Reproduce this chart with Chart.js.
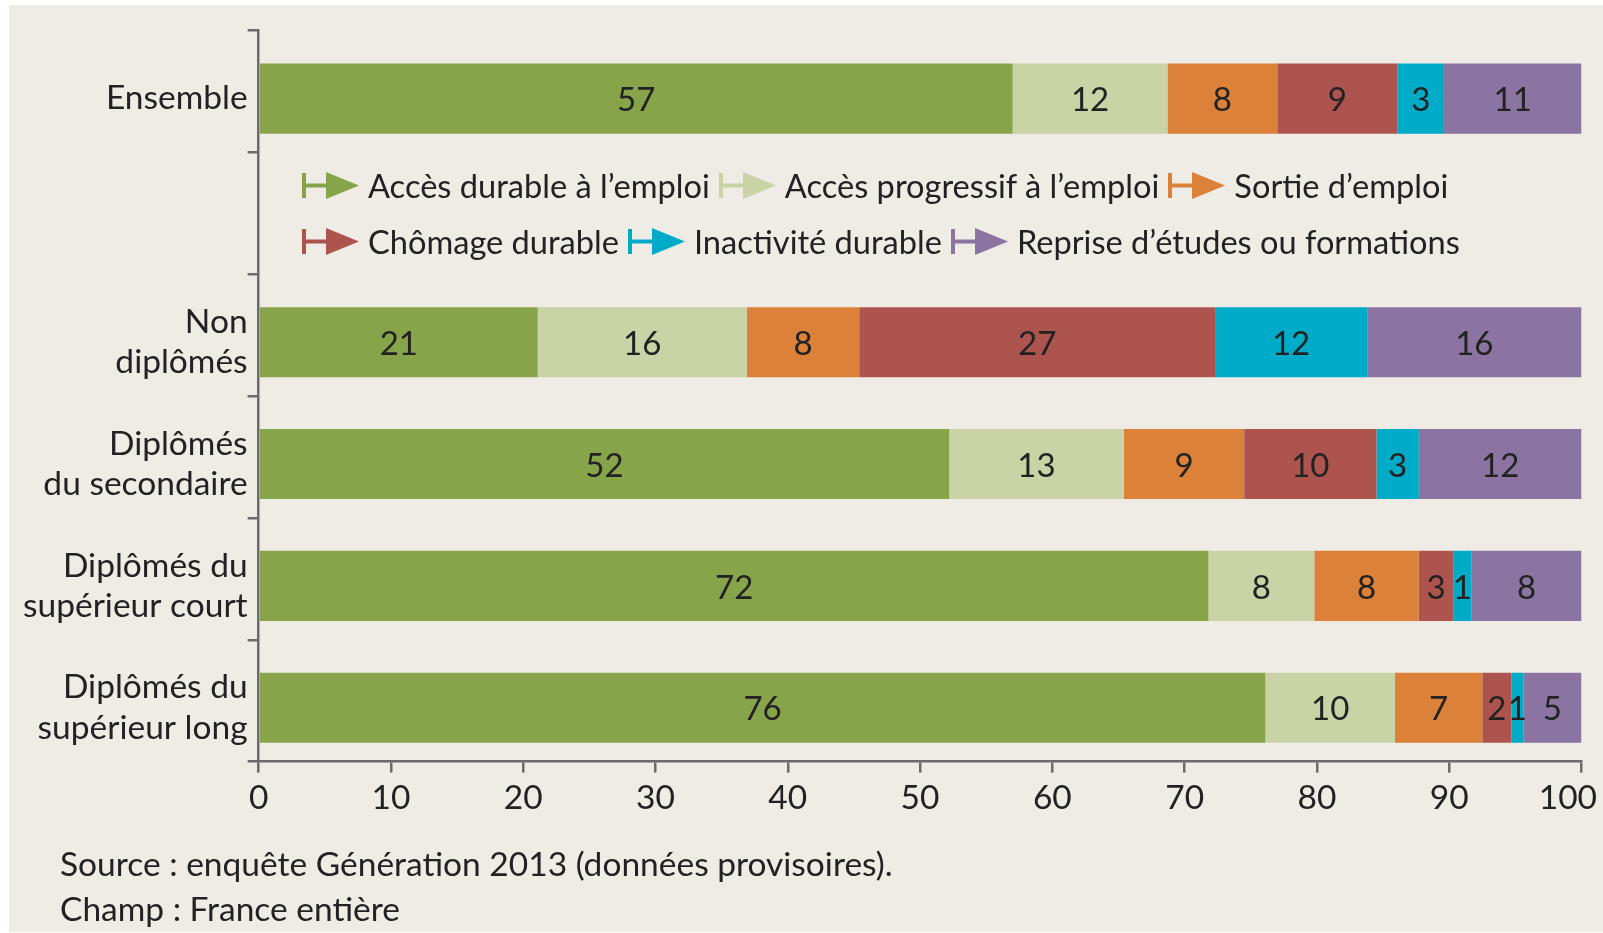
<!DOCTYPE html>
<html lang="fr">
<head>
<meta charset="utf-8">
<title>Situation des jeunes selon le diplôme</title>
<script src="https://cdn.jsdelivr.net/npm/chart.js@4.4.1/dist/chart.umd.min.js"></script>
<style>
  html, body { margin: 0; padding: 0; background: #ffffff; }
  body { width: 1603px; height: 933px; position: relative; overflow: hidden; font-family: Lato, "Open Sans", sans-serif; color: #222; }
  #panel { position: absolute; left: 9px; top: 5px; width: 1594px; height: 927px; background: #EFECE6; }
  #wrap { position: absolute; left: 0; top: 0; width: 1603px; height: 933px; }
  #legend { position: absolute; left: 302px; top: 157px; font-size: 32.6px; }
  .row { display: flex; align-items: center; height: 56px; white-space: nowrap; }
  .item { display: flex; align-items: center; margin-right: 9px; }
  .item svg { margin-right: 9px; }
  .note { position: absolute; left: 60px; font-size: 33.5px; white-space: nowrap; }
</style>
</head>
<body>
<div id="panel"></div>
<div id="wrap"><canvas id="chart" width="1603" height="933"></canvas></div>
<div id="legend"></div>
<div class="note" style="top:843px">Source : enquête Génération 2013 (données provisoires).</div>
<div class="note" style="top:888px">Champ : France entière</div>
<script>
// categories (second slot is left empty: the legend sits there)
const categories = [
    "Ensemble",
    "",
    ["Non", "diplômés"],
    ["Diplômés", "du secondaire"],
    ["Diplômés du", "supérieur court"],
    ["Diplômés du", "supérieur long"]
];

// bar widths (%)
const accesDurable    = [57.0, null, 21.1, 52.2, 71.8, 76.1];
const accesProgressif = [11.7, null, 15.8, 13.2, 8.0, 9.8];
const sortieEmploi    = [8.3, null, 8.5, 9.1, 7.9, 6.6];
const chomageDurable  = [9.1, null, 26.9, 10.0, 2.6, 2.2];
const inactivite      = [3.5, null, 11.5, 3.2, 1.4, 0.9];
const reprise         = [10.4, null, 16.2, 12.3, 8.3, 4.4];

// rounded values printed on the bars
const accesDurableLbl    = [57, null, 21, 52, 72, 76];
const accesProgressifLbl = [12, null, 16, 13, 8, 10];
const sortieEmploiLbl    = [8, null, 8, 9, 8, 7];
const chomageDurableLbl  = [9, null, 27, 10, 3, 2];
const inactiviteLbl      = [3, null, 12, 3, 1, 1];
const repriseLbl         = [11, null, 16, 12, 8, 5];

const xTicks = [0, 10, 20, 30, 40, 50, 60, 70, 80, 90, 100];

const FONT = "Lato";
const TEXT = "#222222";
const AXIS = "#6b6b6b";
const BAR_SHIFT = 7; // bars sit a little below the category centre in the original

const series = [
    { label: "Accès durable à l’emploi",        data: accesDurable,    lbl: accesDurableLbl,    color: "#88A44B" },
    { label: "Accès progressif à l’emploi",     data: accesProgressif, lbl: accesProgressifLbl, color: "#C9D3A6" },
    { label: "Sortie d’emploi",                 data: sortieEmploi,    lbl: sortieEmploiLbl,    color: "#DB813A" },
    { label: "Chômage durable",                 data: chomageDurable,  lbl: chomageDurableLbl,  color: "#AE544E" },
    { label: "Inactivité durable",              data: inactivite,      lbl: inactiviteLbl,      color: "#00ABC8" },
    { label: "Reprise d’études ou formations",  data: reprise,         lbl: repriseLbl,         color: "#8B74A2" }
];

// shift bars down a bit and print the values in the middle of each segment
const barLabels = {
    id: "barLabels",
    beforeDraw(chart) {
        // keep the "100" tick label inside the page, as in the original
        const items = chart.scales.x.getLabelItems();
        const last = items[items.length - 1];
        if (last) {
            last.options.textAlign = "right";
            last.options.translation[0] = chart.width - 6;
        }
    },
    beforeDatasetsDraw(chart) {
        chart.ctx.save();
        chart.ctx.translate(0, BAR_SHIFT);
    },
    afterDatasetsDraw(chart) {
        const ctx = chart.ctx;
        ctx.font = "33px " + FONT;
        ctx.fillStyle = TEXT;
        ctx.textAlign = "center";
        ctx.textBaseline = "middle";
        chart.data.datasets.forEach((ds, i) => {
            chart.getDatasetMeta(i).data.forEach((bar, j) => {
                if (ds.lbl[j] == null) return;
                ctx.fillText(String(ds.lbl[j]), (bar.x + bar.base) / 2, bar.y + 2);
            });
        });
        ctx.restore();
    }
};

const ctx = document.getElementById("chart").getContext("2d");
new Chart(ctx, {
    type: "bar",
    data: {
        labels: categories,
        datasets: series.map(s => ({
            label: s.label,
            data: s.data,
            lbl: s.lbl,
            backgroundColor: s.color,
            borderWidth: 0,
            barPercentage: 0.575,
            categoryPercentage: 1
        }))
    },
    options: {
        indexAxis: "y",
        responsive: false,
        animation: false,
        layout: { padding: { left: 0, right: 21.5, top: 30.7, bottom: 0 } },
        plugins: {
            legend: { display: false },
            tooltip: { enabled: false }
        },
        scales: {
            x: {
                stacked: true,
                min: 0,
                max: 100,
                afterBuildTicks: s => { s.ticks = xTicks.map(v => ({ value: v })); },
                afterFit: s => { s.height = 933 - 761.6; s.paddingLeft = 0; s.paddingRight = 0; },
                border: { color: AXIS, width: 2.5 },
                grid: { drawOnChartArea: false, drawTicks: true, tickLength: 11, color: AXIS, lineWidth: 2.5 },
                ticks: { font: { family: FONT, size: 33.5 }, color: TEXT, padding: 6, maxRotation: 0 }
            },
            y: {
                stacked: true,
                afterFit: s => { s.width = 258.6; s.paddingTop = 0; s.paddingBottom = 0; },
                border: { color: AXIS, width: 2.5 },
                grid: { drawOnChartArea: false, drawTicks: true, tickLength: 11, offset: true, color: AXIS, lineWidth: 2.5 },
                ticks: { font: { family: FONT, size: 33.5, lineHeight: 1.2 }, color: TEXT, padding: 0, labelOffset: BAR_SHIFT, autoSkip: false }
            }
        }
    },
    plugins: [barLabels]
});

// legend drawn in HTML, two rows of three, arrow markers like the original
function marker(color) {
    return '<svg width="57" height="27" viewBox="0 0 57 27">' +
        '<rect x="0" y="1" width="4" height="25" fill="' + color + '"/>' +
        '<rect x="4" y="11.5" width="21" height="4" fill="' + color + '"/>' +
        '<polygon points="24,0 57,13.5 24,27" fill="' + color + '"/></svg>';
}
const legend = document.getElementById("legend");
[series.slice(0, 3), series.slice(3)].forEach(row => {
    const div = document.createElement("div");
    div.className = "row";
    div.innerHTML = row.map(s =>
        '<span class="item">' + marker(s.color) + '<span>' + s.label + '</span></span>').join("");
    legend.appendChild(div);
});
</script>
</body>
</html>
